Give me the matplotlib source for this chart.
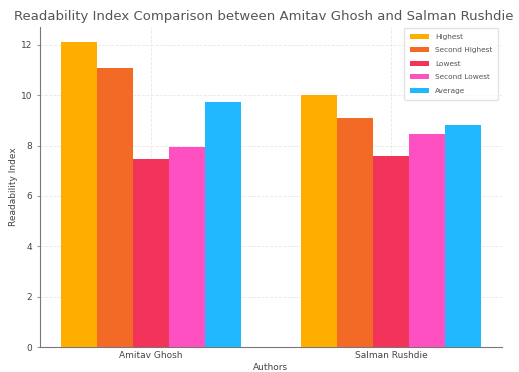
import numpy as np
import matplotlib
matplotlib.use('Agg')
import matplotlib.pyplot as plt

authors = ['Amitav Ghosh', 'Salman Rushdie']
series = ['Highest', 'Second Highest', 'Lowest', 'Second Lowest', 'Average']
highest = [12.1, 10.0]
second_highest = [11.1, 9.1]
lowest = [7.45, 7.58]
second_lowest = [7.93, 8.48]
average = [9.75, 8.8]
colors = ['#FFAE00', '#F26A25', '#F2335A', '#FF50C2', '#22B8FF']

values = [highest, second_highest, lowest, second_lowest, average]

fig = plt.figure(figsize=(5.19, 3.72), dpi=100)
ax = fig.add_axes([0.077, 0.067, 0.89, 0.86])

x = np.arange(len(authors))
width = 0.15
for i, (name, vals, col) in enumerate(zip(series, values, colors)):
    ax.bar(x + (i - 2) * width, vals, width, label=name, color=col, zorder=3)

ax.set_xticks(x)
ax.set_xticklabels(authors, fontsize=6.5, color='#444444')
ax.tick_params(axis='y', labelsize=6.5, labelcolor='#444444', length=2, color='#999999')
ax.tick_params(axis='x', length=0, pad=3)
ax.set_xlabel('Authors', fontsize=6.5, color='#444444', labelpad=2)
ax.set_ylabel('Readability Index', fontsize=6.5, color='#444444', labelpad=2)
ax.set_title('Readability Index Comparison between Amitav Ghosh and Salman Rushdie',
             fontsize=9.5, color='#555555', pad=5, x=0.485)

ax.grid(True, color='#e8e8e8', linestyle='--', linewidth=0.6, zorder=0)
for side in ['top', 'right']:
    ax.spines[side].set_visible(False)
for side in ['left', 'bottom']:
    ax.spines[side].set_color('#777777')
    ax.spines[side].set_linewidth(0.8)

ax.legend(fontsize=5.3, loc='upper right', frameon=True, edgecolor='#dddddd',
          handlelength=2.6, labelspacing=1.0, borderpad=0.8,
          labelcolor='#555555', bbox_to_anchor=(1.0, 1.01))

fig.savefig('out.png', dpi=100)
